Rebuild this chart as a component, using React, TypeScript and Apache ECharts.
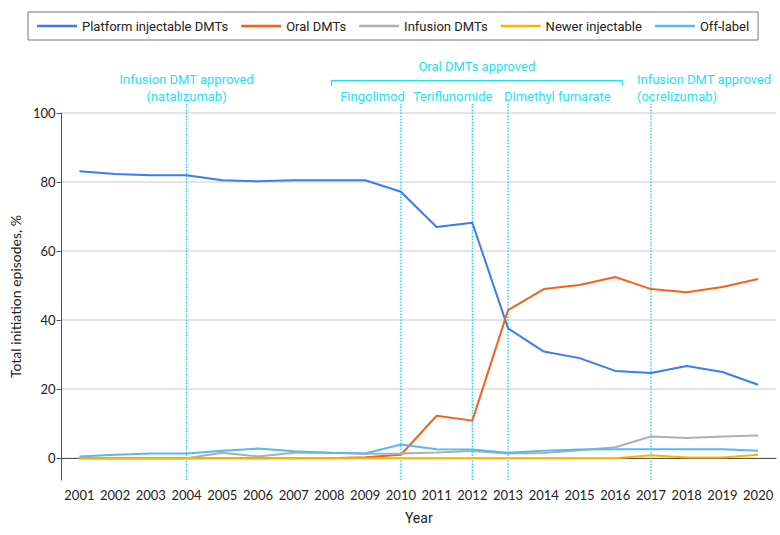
import React, { useEffect, useRef } from "react";
import * as echarts from "echarts";

const years = ["2001","2002","2003","2004","2005","2006","2007","2008","2009","2010","2011","2012","2013","2014","2015","2016","2017","2018","2019","2020"];
const platform = [83.1,82.3,82.0,82.0,80.5,80.2,80.5,80.5,80.5,77.2,67.0,68.2,37.6,30.9,29.0,25.3,24.7,26.7,25.0,21.3];
const oral = [0,0,0,0,0,0,0,0,0.3,1.0,12.3,10.9,42.9,49.0,50.2,52.5,49.0,48.1,49.6,51.9];
const infusion = [0,0,0,0,1.6,0.5,1.6,1.6,1.3,1.4,1.7,2.1,1.4,1.5,2.3,3.2,6.3,5.9,6.3,6.6];
const newer = [0,0,0,0,0,0,0,0,0,0,0,0,0,0,0,0,0.9,0.2,0.2,1.0];
const offLabel = [0.5,1.0,1.4,1.4,2.2,2.8,2.0,1.6,1.4,4.0,2.6,2.5,1.6,2.2,2.5,2.6,2.6,2.6,2.6,2.2];
const seriesNames = ["Platform injectable DMTs","Oral DMTs","Infusion DMTs","Newer injectable","Off-label"];
const seriesColors = ["#3d7bf2","#f5621f","#a8b2b2","#f7b400","#5ab6f6"];
const yTicks = [0,20,40,60,80,100];
const eventYears = ["2004","2010","2012","2013","2017"];

const CYAN = "#1ee3ee";
const NARROW = "Roboto, 'Noto Sans', sans-serif";
const AXISFONT = "Lato, 'Open Sans', sans-serif";
const Y_MIN = -6.3;

export default function App() {
  const ref = useRef<HTMLDivElement>(null);
  useEffect(() => {
    if (!ref.current) return;
    const chart = echarts.init(ref.current, null, { renderer: "svg" });
    const data = [platform, oral, infusion, newer, offLabel];
    chart.setOption({
      animation: false,
      grid: { left: 56, top: 113, width: 720, height: 367 },
      legend: {
        top: 12, left: 28,
        padding: [7, 9],
        borderColor: "#777", borderWidth: 1,
        icon: "rect",
        itemWidth: 40, itemHeight: 2.5, itemGap: 13,
        textStyle: { fontFamily: NARROW, fontSize: 13, color: "#222", lineHeight: 14 },
        data: seriesNames,
      },
      xAxis: {
        type: "category",
        data: years,
        boundaryGap: true,
        name: "Year",
        nameLocation: "middle",
        nameGap: 31,
        nameTextStyle: { fontFamily: NARROW, fontSize: 14, color: "#222" },
        axisLine: { lineStyle: { color: "#555" } },
        axisTick: { alignWithLabel: true, length: 4, lineStyle: { color: "#555" } },
        axisLabel: { fontFamily: AXISFONT, fontSize: 13, color: "#222", margin: 8, interval: 0 },
      },
      yAxis: {
        type: "value",
        min: Y_MIN,
        max: 100,
        name: "Total initiation episodes, %",
        nameLocation: "middle",
        nameGap: 38,
        nameTextStyle: { fontFamily: AXISFONT, fontSize: 14, color: "#222" },
        axisLine: { show: true, lineStyle: { color: "#555" } },
        axisTick: { show: true, length: 5, customValues: yTicks, lineStyle: { color: "#555" } },
        axisLabel: { fontFamily: AXISFONT, fontSize: 13, color: "#222", margin: 6, customValues: yTicks },
        splitLine: { show: true, lineStyle: { color: "#dcdcdc", width: 1.5 } },
      },
      series: seriesNames.map((name, i) => ({
        name,
        type: "line",
        data: data[i],
        symbol: "none",
        color: seriesColors[i],
        lineStyle: { width: 2, color: seriesColors[i] },
        z: 3,
      })),
    });

    const px = (y: string) => chart.convertToPixel({ xAxisIndex: 0 }, y) as number;
    const py = (v: number) => chart.convertToPixel({ yAxisIndex: 0 }, v) as number;
    const tStyle = (text: string, align: string) => ({
      text,
      fill: CYAN,
      font: `13px ${NARROW}`,
      align,
      verticalAlign: "middle",
    });
    const row1 = 79, row2 = 96;
    const bracketY = 80.7, bracketEnd = 86;
    const bx0 = px("2008") + 2, bx1 = px("2016") + 7;
    const vLines = eventYears.map((y) => ({
      type: "line",
      z: 1,
      silent: true,
      shape: { x1: px(y), y1: py(Y_MIN), x2: px(y), y2: 104 },
      style: { stroke: "#12d9e8", lineWidth: 1.3, lineDash: [1.5, 1.5] },
    }));
    chart.setOption({
      graphic: [
        ...vLines,
        { type: "text", x: px("2004"), y: row1, style: tStyle("Infusion DMT approved", "center"), silent: true },
        { type: "text", x: px("2004"), y: row2, style: tStyle("(natalizumab)", "center"), silent: true },
        { type: "text", x: (bx0 + bx1) / 2, y: 66.7, style: tStyle("Oral DMTs approved", "center"), silent: true },
        { type: "polyline", shape: { points: [[bx0, bracketEnd], [bx0, bracketY], [bx1, bracketY], [bx1, bracketEnd]] }, style: { stroke: CYAN, lineWidth: 1.2, fill: "none" }, silent: true },
        { type: "text", x: px("2010") + 4, y: row2, style: tStyle("Fingolimod", "right"), silent: true },
        { type: "text", x: px("2010") + 12, y: row2, style: tStyle("Teriflunomide", "left"), silent: true },
        { type: "text", x: px("2013") - 4, y: row2, style: tStyle("Dimethyl fumarate", "left"), silent: true },
        { type: "text", x: px("2017") - 14, y: row1, style: tStyle("Infusion DMT approved", "left"), silent: true },
        { type: "text", x: px("2017") - 14, y: row2, style: tStyle("(ocrelizumab)", "left"), silent: true },
      ],
    });
    return () => chart.dispose();
  }, []);
  return <div ref={ref} style={{ width: 780, height: 535, position: "absolute", left: 0, top: 0 }} />;
}
